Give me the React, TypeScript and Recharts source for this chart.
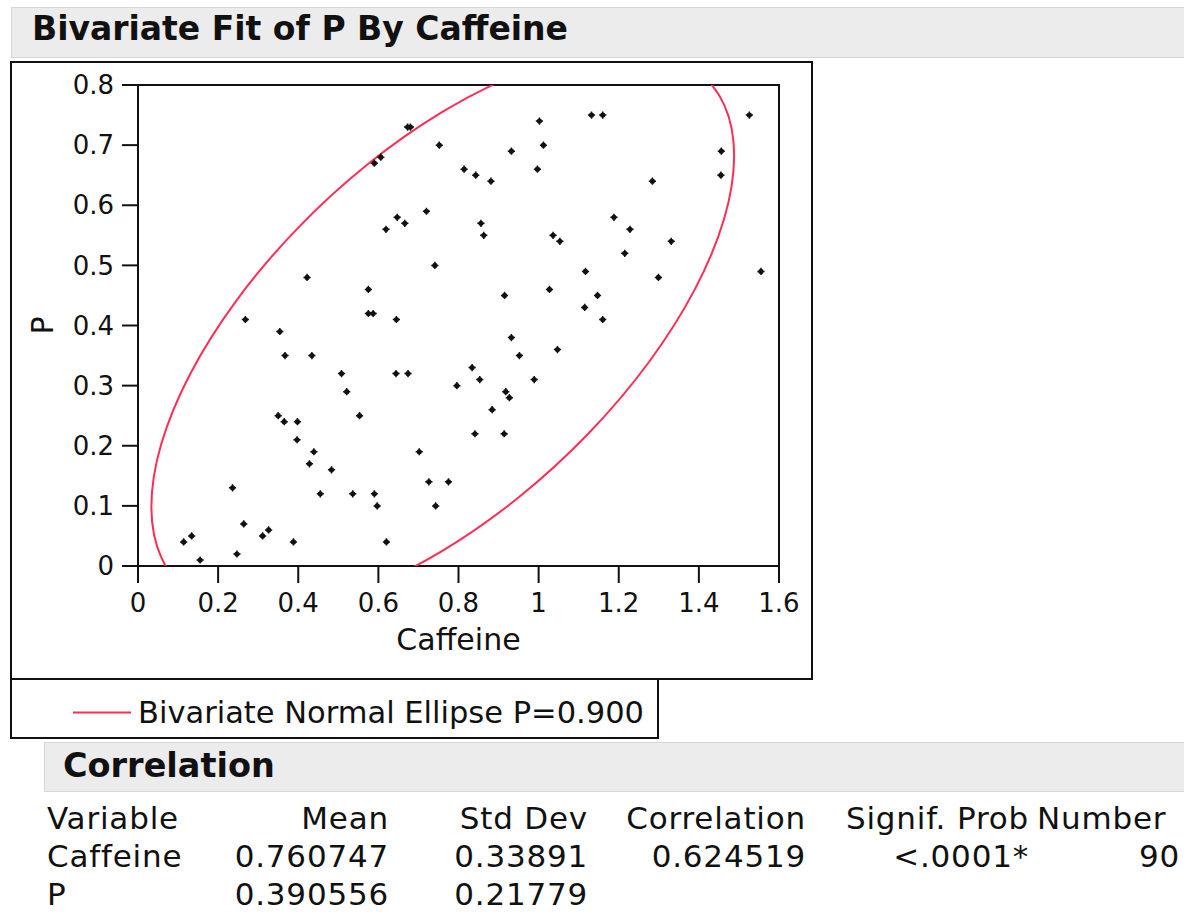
import React from "react";
import { ScatterChart, Scatter, XAxis, YAxis, ReferenceArea } from "recharts";

// Caffeine (x) and P (y), 90 rows
const CAFFEINE = [
  0.673, 0.68, 0.752, 0.59, 0.606, 0.72, 0.647, 0.666, 0.619, 0.741, 0.422, 0.575, 0.575, 0.587, 0.645, 0.268, 0.354,
  1.002, 1.132, 1.16, 1.526, 0.932, 1.012, 0.814, 0.843, 0.881, 0.997, 1.284, 1.456, 1.455, 0.856, 0.863, 1.036, 1.053,
  1.188, 1.228, 1.331, 1.215, 1.117, 1.555, 1.027, 1.299, 0.915, 1.147, 1.115, 1.16,
  0.367, 0.434, 0.508, 0.644, 0.674, 0.796, 0.521, 0.553, 0.35, 0.365, 0.398, 0.397, 0.439, 0.428, 0.483, 0.702, 0.726,
  0.775, 0.743, 0.455, 0.536, 0.59, 0.597, 0.236, 0.264, 0.311, 0.326, 0.388, 0.62, 0.114, 0.134, 0.155, 0.247,
  0.932, 1.047, 0.952, 0.834, 0.853, 0.989, 0.918, 0.927, 0.884, 0.841, 0.914,
];
const P = [
  0.73, 0.73, 0.7, 0.67, 0.68, 0.59, 0.58, 0.57, 0.56, 0.5, 0.48, 0.46, 0.42, 0.42, 0.41, 0.41, 0.39,
  0.74, 0.75, 0.75, 0.75, 0.69, 0.7, 0.66, 0.65, 0.64, 0.66, 0.64, 0.69, 0.65, 0.57, 0.55, 0.55, 0.54,
  0.58, 0.56, 0.54, 0.52, 0.49, 0.49, 0.46, 0.48, 0.45, 0.45, 0.43, 0.41,
  0.35, 0.35, 0.32, 0.32, 0.32, 0.3, 0.29, 0.25, 0.25, 0.24, 0.24, 0.21, 0.19, 0.17, 0.16, 0.19, 0.14,
  0.14, 0.1, 0.12, 0.12, 0.12, 0.1, 0.13, 0.07, 0.05, 0.06, 0.04, 0.04, 0.04, 0.05, 0.01, 0.02,
  0.38, 0.36, 0.35, 0.33, 0.31, 0.31, 0.29, 0.28, 0.26, 0.22, 0.22,
];

// outline of the 0.900 normal ellipse (runs past the frame, clipped by the axes)
const ELLIPSE_X = [
  0.2464, 0.3971, 0.5725, 0.7607, 0.9489, 1.1243, 1.275, 1.3905, 1.4632, 1.488, 1.4632, 1.3905, 1.275, 1.1243,
  0.9489, 0.7607, 0.5725, 0.3971, 0.2465, 0.1309, 0.0582, 0.0334, 0.0582, 0.1309, 0.2464, 0.3971, 0.5725,
];
const ELLIPSE_Y = [
  -0.0739, -0.0714, -0.0375, 0.0256, 0.1135, 0.2204, 0.3389, 0.4609, 0.578, 0.6825, 0.767, 0.8259, 0.8551, 0.8526,
  0.8187, 0.7556, 0.6677, 0.5608, 0.4423, 0.3203, 0.2032, 0.0987, 0.0142, -0.0447, -0.0739, -0.0714, -0.0375,
];

const X_TICKS = [0, 0.2, 0.4, 0.6, 0.8, 1, 1.2, 1.4, 1.6];
const Y_TICKS = [0, 0.1, 0.2, 0.3, 0.4, 0.5, 0.6, 0.7, 0.8];

const TABLE_HEAD = ["Variable", "Mean", "Std Dev", "Correlation", "Signif. Prob", "Number"];
const ROW_CAFFEINE = ["Caffeine", "0.760747", "0.33891", "0.624519", "<.0001*", "90"];
const ROW_P = ["P", "0.390556", "0.21779"];

const FONT = "'DejaVu Sans', sans-serif";
const INK = "#111";
const RED = "#ff2d55";
const BAR = "#ececec";

const points = CAFFEINE.map((x, i) => ({ x, y: P[i] }));
const ellipse = ELLIPSE_X.map((x, i) => ({ x, y: ELLIPSE_Y[i] }));

function Dot({ cx, cy }: any) {
  return (
    <g>
      <circle cx={cx} cy={cy} r={2.6} fill={INK} />
      <path d={`M${cx - 3.6},${cy}H${cx + 3.6}M${cx},${cy - 3.6}V${cy + 3.6}`} stroke={INK} strokeWidth={1.5} />
    </g>
  );
}

const xLabel = ({ viewBox }: any) => (
  <text x={viewBox.x + viewBox.width / 2} y={viewBox.y + viewBox.height - 29} textAnchor="middle"
    fontSize={30} fontFamily={FONT} fill={INK}>Caffeine</text>
);

const yLabel = ({ viewBox }: any) => {
  const cx = viewBox.x + 30;
  const cy = viewBox.y + viewBox.height / 2;
  return (
    <text x={cx} y={cy} transform={`rotate(-90 ${cx} ${cy})`} textAnchor="middle" dominantBaseline="central"
      fontSize={30} fontFamily={FONT} fill={INK}>P</text>
  );
};

// column anchors for the correlation table: [x, anchor]
const COLS: [number, "start" | "end"][] = [[47, "start"], [389, "end"], [588, "end"], [806, "end"], [1029, "end"], [1180, "end"]];

function Row({ cells, y, head }: { cells: string[]; y: number; head?: boolean }) {
  return (
    <>
      {cells.map((c, i) => {
        let [x, anchor] = COLS[i];
        if (head && i === 5) { x = 1037; anchor = "start"; }
        return (
          <text key={i} x={x} y={y} textAnchor={anchor} fontSize={31} letterSpacing={0.8} fontFamily={FONT} fill={INK}>{c}</text>
        );
      })}
    </>
  );
}

export default function App() {
  return (
    <div style={{ position: "absolute", left: 0, top: 0, width: 1184, height: 912, background: "#fff", overflow: "hidden" }}>
      <svg width={1184} height={912} style={{ position: "absolute", left: 0, top: 0 }}>
        <rect x={11.5} y={7.5} width={1190} height={50} fill={BAR} stroke="#d6d6d6" />
        <text x={32} y={40} fontSize={33} fontWeight="bold" fontFamily={FONT} fill={INK}>Bivariate Fit of P By Caffeine</text>

        <rect x={11} y={62} width={801} height={617} fill="#fff" stroke={INK} strokeWidth={2} />

        <rect x={11} y={679} width={647} height={59} fill="#fff" stroke={INK} strokeWidth={2} />
        <line x1={73} x2={131} y1={712.5} y2={712.5} stroke={RED} strokeWidth={2} />
        <text x={138} y={723} fontSize={30.5} fontFamily={FONT} fill={INK}>Bivariate Normal Ellipse P=0.900</text>

        <rect x={44.5} y={742.5} width={1150} height={49} fill={BAR} stroke="#d6d6d6" />
        <text x={63} y={777} fontSize={33.5} fontWeight="bold" fontFamily={FONT} fill={INK}>Correlation</text>

        <Row cells={TABLE_HEAD} y={829} head />
        <Row cells={ROW_CAFFEINE} y={867} />
        <Row cells={ROW_P} y={905} />
      </svg>

      <div style={{ position: "absolute", left: 12, top: 63 }}>
        <ScatterChart width={800} height={616} margin={{ top: 22, right: 33, left: 0, bottom: 0 }}>
          <XAxis type="number" dataKey="x" domain={[0, 1.6]} ticks={X_TICKS} allowDataOverflow height={113}
            tickSize={17} tickMargin={11} axisLine={{ stroke: INK, strokeWidth: 2 }} tickLine={{ stroke: INK, strokeWidth: 2 }}
            tick={{ fontSize: 26, fill: INK, fontFamily: FONT }} label={{ content: xLabel }} />
          <YAxis type="number" dataKey="y" domain={[0, 0.8]} ticks={Y_TICKS} allowDataOverflow width={126}
            tickSize={16} tickMargin={8} axisLine={{ stroke: INK, strokeWidth: 2 }} tickLine={{ stroke: INK, strokeWidth: 2 }}
            tick={{ fontSize: 26, fill: INK, fontFamily: FONT }} label={{ content: yLabel }} />
          <ReferenceArea x1={0} x2={1.6} y1={0} y2={0.8} fill="none" stroke={INK} strokeWidth={2} ifOverflow="visible" />
          <Scatter name="Bivariate Normal Ellipse P=0.900" data={ellipse} fill={RED} line={{ stroke: RED, strokeWidth: 2 }}
            lineType="joint" lineJointType="natural" shape={() => <g />} isAnimationActive={false} />
          <Scatter name="P by Caffeine" data={points} fill={INK} shape={Dot} isAnimationActive={false} />
        </ScatterChart>
      </div>
    </div>
  );
}
